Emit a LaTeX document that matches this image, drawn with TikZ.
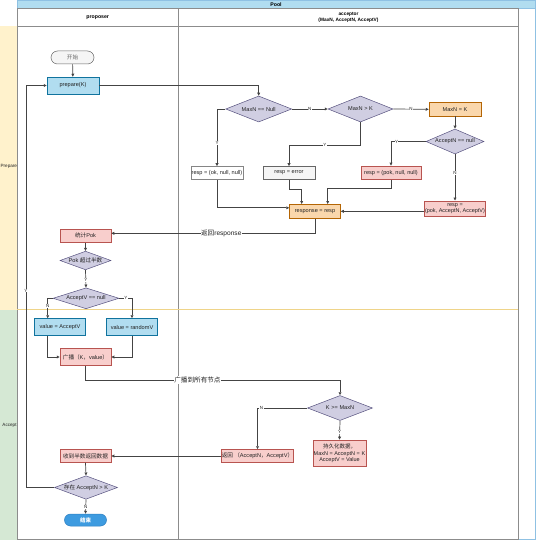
\documentclass[tikz,border=0pt]{standalone}
\usepackage{fontspec}
\setmainfont{Liberation Sans}
\newfontfamily\cjk{Noto Sans CJK SC}
\usetikzlibrary{shapes.geometric,arrows.meta}
\definecolor{bfill}{HTML}{B1DDF0}
\definecolor{bdraw}{HTML}{10739E}
\definecolor{pfill}{HTML}{D0CEE2}
\definecolor{pdraw}{HTML}{56517E}
\definecolor{ofill}{HTML}{FAD7AC}
\definecolor{odraw}{HTML}{B46504}
\definecolor{rfill}{HTML}{F8CECC}
\definecolor{rdraw}{HTML}{B85450}
\definecolor{gfill}{HTML}{F5F5F5}
\definecolor{gdraw}{HTML}{666666}
\definecolor{endfill}{HTML}{3D9BE0}
\definecolor{enddraw}{HTML}{2F7FC0}
\definecolor{prepband}{HTML}{FFF2CC}
\definecolor{accband}{HTML}{D5E8D4}
\definecolor{sepline}{HTML}{EFD489}
\definecolor{laneC}{HTML}{8C8C8C}
\definecolor{poolC}{HTML}{8FC1E3}
\definecolor{lineC}{HTML}{444444}
\definecolor{txtC}{HTML}{222222}
\begin{document}
\begin{tikzpicture}[x=1pt,y=-1pt,
  nodefont/.style={font=\fontsize{5.6}{6.4}\selectfont, text=txtC},
  box/.style={rectangle, draw, line width=0.5pt, inner sep=0.5pt, align=center, nodefont},
  bluebox/.style={box, fill=bfill, draw=bdraw},
  orbox/.style={box, fill=ofill, draw=odraw},
  pinkbox/.style={box, fill=rfill, draw=rdraw},
  graybox/.style={box, fill=gfill, draw=gdraw},
  whitebox/.style={box, fill=white, draw=gdraw!80},
  dec/.style={diamond, aspect=2.5, draw=pdraw, fill=pfill, line width=0.5pt, inner sep=0pt, align=center, nodefont},
  conn/.style={draw=lineC, line width=0.7pt, -{Triangle[length=3pt,width=2.8pt]}},
  lab/.style={fill=white, inner sep=0.4pt, font=\fontsize{4.5}{4.5}\selectfont, text=txtC},
  biglab/.style={fill=white, inner sep=0.6pt, font=\fontsize{6.6}{7}\selectfont, text=txtC},
  lane/.style={draw=laneC, line width=0.8pt},
  headtext/.style={font=\bfseries\fontsize{5.2}{6}\selectfont, text=black, align=center}
]
\useasboundingbox (0,0) rectangle (536,540);
% phase bands
\fill[prepband] (0,26) rectangle (17,309.5);
\fill[accband] (0,309.5) rectangle (17,540);
\node[font=\fontsize{4.6}{5}\selectfont, text=txtC] (prepl) at (8.8,166) {Prepare};
\node[font=\fontsize{4.6}{5}\selectfont, text=txtC] (accl) at (9.5,425) {Accept};
% pool
\draw[draw=poolC, line width=0.8pt] (17,0) rectangle (535,539.5);
\node[rectangle, fill=bfill, draw=poolC, line width=0.6pt, minimum width=518pt, minimum height=8.5pt, inner sep=0pt, headtext] (pool) at (276,4.25) {Pool};
% lanes
\draw[lane] (17,8.5) rectangle (178.5,539.5);
\draw[lane] (178.5,8.5) rectangle (518.5,539.5);
\draw[lane] (17,26) -- (518.5,26);
\node[headtext] (prophead) at (97.75,17.25) {proposer};
\node[headtext, font=\bfseries\fontsize{4.8}{5.4}\selectfont] (acchead) at (348.5,17.25) {acceptor\\(MaxN, AcceptN, AcceptV)};
% phase separator
\draw[sepline, line width=1.4pt] (17,309.5) -- (518,309.5);

% nodes
\node[graybox, rounded corners=6.5pt, minimum width=43pt, minimum height=13pt, text=gdraw] (start) at (72.5,57.5) {\cjk 开始};
\node[bluebox, minimum width=52pt, minimum height=17pt] (prep) at (73,85.5) {prepare(K)};
\node[dec, minimum width=66pt, minimum height=26pt] (d1) at (258.7,109) {MaxN == Null};
\node[dec, minimum width=65pt, minimum height=26pt] (d2) at (360.5,109) {MaxN > K};
\node[orbox, minimum width=52pt, minimum height=13.5pt] (mk) at (455,109.3) {MaxN = K};
\node[dec, minimum width=58pt, minimum height=25pt] (d3) at (455,141.5) {AcceptN == null};
\node[whitebox, minimum width=52pt, minimum height=13pt] (rok) at (217,173) {resp = (ok, null, null)};
\node[graybox, minimum width=52pt, minimum height=13pt] (rerr) at (289,173) {resp = error};
\node[pinkbox, minimum width=60pt, minimum height=13.5pt] (rpok) at (391,172.7) {resp = (pok, null, null)};
\node[pinkbox, minimum width=60pt, minimum height=15pt, font=\fontsize{5.5}{5.6}\selectfont] (rpav) at (455,208.3) {resp =\\(pok, AcceptN, AcceptV)};
\node[orbox, minimum width=51pt, minimum height=14pt] (resp) at (315,211.3) {response = resp};
\node[pinkbox, minimum width=51pt, minimum height=13pt] (stat) at (85.5,235.8) {{\cjk 统计}Pok};
\node[dec, minimum width=51pt, minimum height=18pt] (d4) at (85.5,260.5) {Pok {\cjk 超过半数}};
\node[dec, minimum width=66pt, minimum height=18pt] (d5) at (86,298.3) {AcceptV == null};
\node[bluebox, minimum width=51pt, minimum height=17pt] (vacc) at (60,327) {value = AcceptV};
\node[bluebox, minimum width=51pt, minimum height=17pt] (vrnd) at (132,327) {value = randomV};
\node[pinkbox, minimum width=51pt, minimum height=17pt] (bc) at (85.5,357) {{\cjk 广播（}K{\cjk ，}value{\cjk ）}};
\node[dec, minimum width=65pt, minimum height=25pt] (d6) at (340,408) {K\,\,>= MaxN};
\node[pinkbox, minimum width=63pt, minimum height=13pt] (ret) at (257.5,456) {{\cjk 返回 （}AcceptN{\cjk ，}AcceptV{\cjk ）}};
\node[pinkbox, minimum width=52pt, minimum height=26.7pt, font=\fontsize{5.5}{6.2}\selectfont] (pers) at (339.5,453.3) {{\cjk 持久化数据，}\\MaxN = AcceptN =\,\,K\\AcceptV = Value};
\node[pinkbox, minimum width=51pt, minimum height=13pt] (recv) at (85.5,456) {\cjk 收到半数返回数据};
\node[dec, minimum width=63pt, minimum height=22pt] (d7) at (86,487.5) {{\cjk 存在} AcceptN > K};
\node[rectangle, rounded corners=6pt, fill=endfill, draw=enddraw, line width=0.5pt, minimum width=42pt, minimum height=12pt, inner sep=0pt, font=\bfseries\fontsize{5.5}{6}\selectfont, text=white] (end) at (85.5,520) {\cjk 结束};

% connectors
\draw[conn] (start) -- (prep);
\draw[conn] (prep.east) -| (d1.north);
\draw[conn] (d1.east) -- node[lab] {N} (d2.west);
\draw[conn] (d2.east) -- node[lab] {N} (mk.west);
\draw[conn] (mk.south) -- (d3.north);
\draw[conn] (d3.west) -| node[lab, pos=0.42] {Y} (rpok.north);
\draw[conn] (d3.south) -- node[lab, pos=0.4] {N} (rpav.north);
\draw[conn] (d1.west) -| node[lab, pos=0.8] {Y} (rok.north);
\coordinate (d2turn) at (360.5,145);
\draw[conn] (d2.south) -- (d2turn) -| node[lab, pos=0.25] {Y} (rerr.north);
\draw[conn] (rok.south) |- ([yshift=3.5pt]resp.west);
\draw[conn] (rerr.south) -- ++(0,10) -| ([xshift=-13.3pt]resp.north);
\draw[conn] (rpok.south) -- ++(0,8.5) -| ([xshift=12.7pt]resp.north);
\draw[conn] (rpav.west |- resp.east) -- (resp.east);
\draw[conn] (resp.south) |- node[biglab, pos=0.73] {{\cjk 返回}response} ([yshift=2.5pt]stat.east);
\draw[conn] (stat.south) -- (d4.north);
\draw[conn] (d4.south) -- node[lab, pos=0.55] {Y} (d5.north);
\draw[conn] (d5.west) -| node[lab, pos=0.69] {N} ([xshift=-12.3pt]vacc.north);
\draw[conn] (d5.east) -| node[lab, pos=0.26] {Y} (vrnd.north);
\draw[conn] ([xshift=-12.3pt]vacc.south) |- (bc.west);
\draw[conn] (vrnd.south) |- (bc.east);
\coordinate (bcturn) at (85.5,380);
\draw[conn] (bc.south) -- (bcturn) -| node[biglab, pos=0.22] {\cjk 广播到所有节点} (d6.north);
\draw[conn] (d6.west) -| node[lab, pos=0.46] {N} (ret.north);
\draw[conn] (d6.south) -- node[lab, pos=0.6] {Y} (pers.north);
\draw[conn] (ret.west) -- (recv.east);
\draw[conn] (recv.south) -- (d7.north);
\coordinate (loopc) at (26,487.5);
\draw[conn] (d7.west) -- (loopc) |- node[lab, pos=0.245] {Y} (prep.west);
\draw[conn] (d7.south) -- node[lab, pos=0.5] {N} (end.north);
\end{tikzpicture}
\end{document}
